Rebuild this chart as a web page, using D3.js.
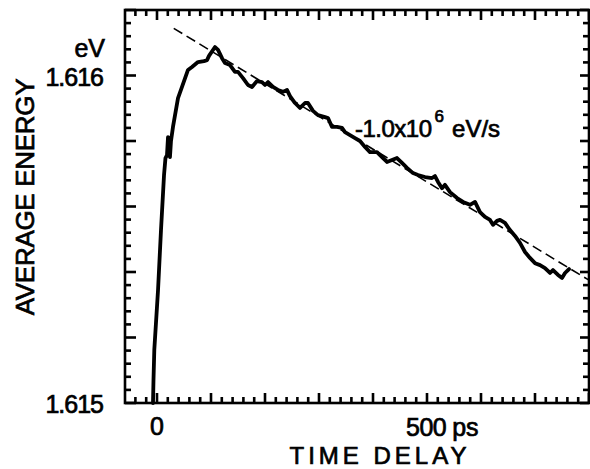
<!DOCTYPE html>
<html>
<head>
<meta charset="utf-8">
<script src="https://cdn.jsdelivr.net/npm/d3@7"></script>
<style>
html,body{margin:0;padding:0;background:#fff;}
svg{display:block;}
text{font-family:"Liberation Sans",Arial,sans-serif;fill:#000;stroke:#000;stroke-width:0.7px;}
</style>
</head>
<body>
<svg id="chart" width="590" height="469"></svg>
<script>
// ---- data (time delay in ps, average energy in eV) ----
const timePs = [-7.4,-6.5,-5,1.9,7.4,13,15.7,18.5,20.4,24,25.9,29.6,38.9,46.3,57.4,64.8,75.9,87,92.6,96.3,107.4,113,120.4,125.9,135.2,144.4,150,159.3,168.5,175.9,185.2,194.4,200,205.6,214.8,224,233.3,240.7,246.3,255.6,264.8,274.1,279.6,288.9,298.1,311.1,316.7,324.1,333.3,342.6,348.1,357.4,366.7,375.9,385.2,394.4,407.4,416.7,425.9,435.2,444.4,453.7,463,474.1,483.3,496.3,509.3,514.8,520.4,527.8,533.3,542.6,555.6,566.7,579.6,588.9,598.1,607.4,616.7,622.2,629.6,635.2,644.4,653.7,663,672.2,681.5,690.7,700,709.3,718.5,727.8,733.3,742.6,750,755.6,763];
const energyEv = [1.61500,1.61507,1.615162,1.615345,1.615528,1.615696,1.615748,1.615757,1.615812,1.615751,1.615800,1.615843,1.615931,1.615965,1.616017,1.616026,1.616041,1.616044,1.616047,1.616060,1.616087,1.616078,1.616053,1.616038,1.616032,1.616011,1.616011,1.615992,1.615971,1.615965,1.615983,1.615980,1.615971,1.615980,1.615965,1.615956,1.615950,1.615956,1.615937,1.615916,1.615901,1.615916,1.615916,1.615892,1.615879,1.615873,1.615870,1.615843,1.615843,1.615840,1.615827,1.615818,1.615809,1.615800,1.615782,1.615766,1.615766,1.615751,1.615736,1.615742,1.615748,1.615733,1.615718,1.615702,1.615696,1.615690,1.615687,1.615693,1.615675,1.615656,1.615666,1.615644,1.615626,1.615614,1.615605,1.615614,1.615583,1.615568,1.615559,1.615544,1.615556,1.615559,1.615550,1.615528,1.615510,1.615489,1.615461,1.615443,1.615427,1.615421,1.615412,1.615397,1.615406,1.615391,1.615382,1.615397,1.615409];
// fitted slope line (-1.0e6 eV/s)
const fitTimePs = [31, 800];
const fitEnergyEv = [1.616144, 1.615375];
// axes
const xDomain = [-60, 800];
const yDomain = [1.615, 1.6162];
const xMajorTicks = [0,100,200,300,400,500,600,700,800];
const yMajorTicks = [1.615,1.6152,1.6154,1.6156,1.6158,1.616,1.6162];
const xTickLabels = ["0", "500"];
const yTickLabels = ["1.615", "1.616"];

const svg = d3.select("#chart");
const L = 125, R = 589, T = 10, B = 403;
const x = d3.scaleLinear().domain(xDomain).range([124.6, 589]);
const y = d3.scaleLinear().domain(yDomain).range([B, T]);

const xMinor = d3.range(-40, 801, 20).filter(v => v % 100 !== 0);
const yMinor = d3.range(0, 31).map(i => +(1.615 + i * 0.00004).toFixed(5))
  .filter(v => !yMajorTicks.some(m => Math.abs(m - v) < 1e-7));

// inward ticks on all four sides, drawn as small filled bars
const TW = 2.6;
const tickG = svg.append("g").attr("fill", "#000");
function xTicks(vals, len) {
  vals.forEach(v => {
    tickG.append("rect").attr("x", x(v) - TW / 2).attr("y", B - len).attr("width", TW).attr("height", len).attr("fill", "#000");
    tickG.append("rect").attr("x", x(v) - TW / 2).attr("y", T).attr("width", TW).attr("height", len).attr("fill", "#000");
  });
}
function yTicks(vals, lenL, lenR) {
  vals.forEach(v => {
    tickG.append("rect").attr("x", L).attr("y", y(v) - TW / 2).attr("width", lenL).attr("height", TW).attr("fill", "#000");
    tickG.append("rect").attr("x", R - lenR).attr("y", y(v) - TW / 2).attr("width", lenR).attr("height", TW).attr("fill", "#000");
  });
}
xTicks(xMajorTicks, 10);
xTicks(xMinor, 6);
yTicks(yMajorTicks, 11, 9);
yTicks(yMinor, 6, 6);

// frame
svg.append("rect").attr("x", L).attr("y", T).attr("width", R - L).attr("height", B - T)
  .attr("fill", "none").attr("stroke", "#000").attr("stroke-width", 2.6);

// fitted dashed line
const line = d3.line().x(d => x(d[0])).y(d => y(d[1]));
svg.append("path").datum(fitTimePs.map((t, i) => [t, fitEnergyEv[i]]))
  .attr("d", line).attr("fill", "none").attr("stroke", "#000")
  .attr("stroke-width", 1.6).attr("stroke-dasharray", "10,5");

// data curve
svg.append("path").datum(timePs.map((t, i) => [t, energyEv[i]]))
  .attr("d", line).attr("fill", "none").attr("stroke", "#000")
  .attr("stroke-width", 3.8).attr("stroke-linejoin", "round").attr("stroke-linecap", "round");

// tick labels
svg.append("text").attr("x", 103).attr("y", y(1.615) + 10).attr("text-anchor", "end")
  .attr("font-size", 25).attr("letter-spacing", -1).text(yTickLabels[0]);
svg.append("text").attr("x", 103).attr("y", y(1.616) + 10).attr("text-anchor", "end")
  .attr("font-size", 25).attr("letter-spacing", -1).text(yTickLabels[1]);
svg.append("text").attr("x", 105).attr("y", 57).attr("text-anchor", "end")
  .attr("font-size", 25).text("eV");
svg.append("text").attr("x", x(0)).attr("y", 435).attr("text-anchor", "middle")
  .attr("font-size", 25).text(xTickLabels[0]);
const t500 = svg.append("text").attr("x", x(500) - 21).attr("y", 436).attr("font-size", 25);
t500.append("tspan").attr("letter-spacing", -0.5).text(xTickLabels[1]);
t500.append("tspan").attr("dx", 6).text("ps");

// axis titles
svg.append("text").attr("x", 380).attr("y", 464).attr("text-anchor", "middle")
  .attr("font-size", 24).attr("letter-spacing", 4).text("TIME DELAY");
svg.append("text").attr("transform", "translate(34,197) rotate(-90)").attr("text-anchor", "middle")
  .attr("font-size", 26).attr("letter-spacing", -0.3).text("AVERAGE ENERGY");

// slope annotation
const ann = svg.append("text").attr("x", 355).attr("y", 137).attr("font-size", 24);
ann.append("tspan").attr("letter-spacing", -0.5).text("-1.0x10");
ann.append("tspan").attr("dy", -15).attr("dx", 3).attr("font-size", 17).text("6");
ann.append("tspan").attr("dy", 15).attr("dx", 8).text("eV/s");
</script>
</body>
</html>
